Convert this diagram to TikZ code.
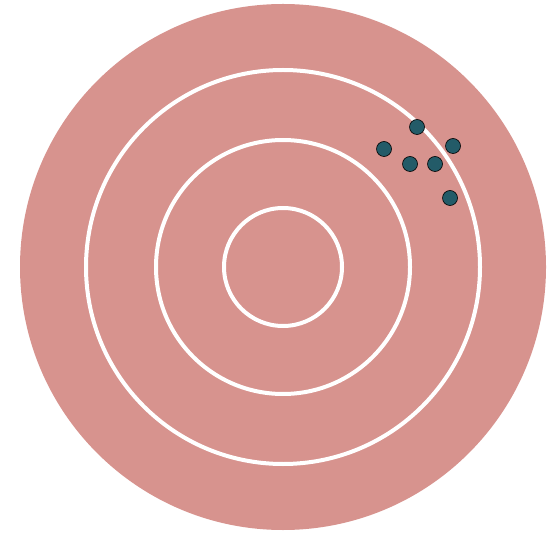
\documentclass[tikz,border=0pt]{standalone}
\usepackage{tikz}
\definecolor{targetpink}{HTML}{D7938E}
\definecolor{shotteal}{HTML}{235B68}
\tikzset{
    ring/.style={draw=white,line width=4pt},
    shot/.style={circle,draw=black,line width=0.6pt,fill=shotteal,minimum size=15pt,inner sep=0pt}
}
\begin{document}
\begin{tikzpicture}[x=1pt,y=-1pt]
    \useasboundingbox (0,0) rectangle (556,534);
    \fill[targetpink] (283,267) circle (263);
    \foreach \r in {197,127,59}
        \draw[ring] (283,267) circle (\r);
    \foreach \x/\y/\lab in {417/127/a,384/149/b,453/146/c,410/164/d,435/164/e,450/198/f}
        \node[shot] (shot\lab) at (\x,\y) {};
\end{tikzpicture}
\end{document}
